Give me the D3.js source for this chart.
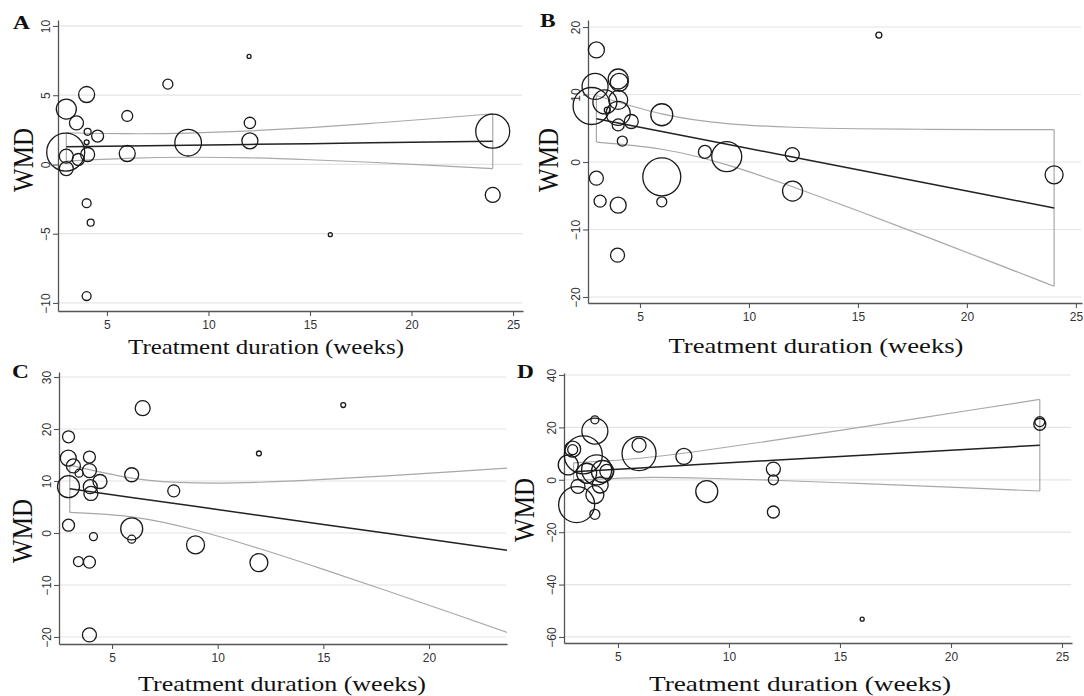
<!DOCTYPE html>
<html><head><meta charset="utf-8">
<script src="https://cdn.jsdelivr.net/npm/d3@7"></script>
<style>body{margin:0;background:#fff}svg{display:block}</style>
</head><body><svg id="c" width="1084" height="696"></svg>
<script>
// ---------- data ----------
const xTicksFull = [5, 10, 15, 20, 25];
const xTicksC = [5, 10, 15, 20];
const yTicksA = [-10, -5, 0, 5, 10];
const yTicksB = [-20, -10, 0, 10, 20];
const yTicksC = [-20, -10, 0, 10, 20, 30];
const yTicksD = [-60, -40, -20, 0, 20, 40];

const durationA = [3.0, 4.0, 3.5, 4.05, 4.54, 4.0, 2.97, 3.0, 3.0, 3.59, 4.05, 6.0, 6.0, 8.0, 9.0, 12.04, 12.04, 12.0, 4.0, 4.2, 4.0, 24.0, 24.0, 16.0];
const wmdA      = [4.0, 5.05, 3.0, 2.36, 2.05, 1.6, 0.89, 0.6, -0.3, 0.36, 0.72, 3.5, 0.79, 5.8, 1.57, 3.0, 1.7, 7.8, -2.8, -4.2, -9.5, 2.4, -2.2, -5.07];
const weightA   = [100, 64, 49, 12, 36, 6, 361, 49, 49, 36, 49, 30, 64, 25, 177, 32, 64, 4, 20, 12, 20, 289, 56, 4];

const durationB = [3.0, 2.94, 2.78, 3.39, 4.0, 4.05, 4.0, 3.5, 4.0, 4.6, 4.0, 4.19, 6.0, 3.0, 3.17, 4.0, 3.97, 6.0, 6.0, 7.98, 8.98, 11.99, 12.0, 15.96, 24.0];
const wmdB      = [16.6, 11.2, 8.3, 8.9, 12.3, 11.8, 9.2, 7.7, 7.2, 6.0, 5.5, 3.1, 7.0, -2.4, -5.8, -6.4, -13.8, -2.2, -5.9, 1.5, 0.8, 1.1, -4.3, 18.8, -1.9];
const weightB   = [64, 169, 342, 144, 100, 81, 90, 9, 144, 49, 36, 25, 121, 49, 36, 64, 49, 361, 25, 42, 225, 49, 100, 9, 81];

const durationC = [2.94, 2.93, 3.17, 3.44, 3.93, 3.93, 2.94, 3.97, 4.0, 4.43, 5.93, 6.45, 7.92, 2.94, 4.12, 5.93, 5.93, 3.41, 3.93, 8.95, 11.95, 11.95, 3.93, 15.94];
const wmdC      = [18.5, 14.4, 12.9, 11.5, 14.6, 12.0, 8.9, 8.9, 7.6, 9.9, 11.2, 24.0, 8.1, 1.5, -0.7, 0.8, -1.2, -5.5, -5.6, -2.3, -5.7, 15.3, -19.6, 24.6];
const weightC   = [36, 64, 49, 16, 36, 49, 121, 49, 49, 49, 49, 56, 36, 36, 16, 121, 16, 25, 36, 81, 81, 6, 49, 6];

const durationD = [2.76, 2.96, 2.96, 3.14, 3.44, 3.2, 3.59, 3.96, 3.96, 4.04, 4.2, 3.96, 3.96, 4.3, 4.5, 5.95, 5.95, 7.97, 9.0, 12.0, 12.0, 12.0, 24.0, 24.0, 16.0];
const wmdD      = [5.7, 11.7, 11.5, -9.5, 9.5, -2.5, 2.5, 22.9, 18.6, 3.8, -2.0, -5.7, -13.2, 3.2, 3.2, 10.0, 13.2, 8.9, -4.5, 4.1, 0.0, -12.3, 21.2, 22.2, -53.2];
const weightD   = [100, 64, 25, 324, 361, 49, 100, 16, 169, 225, 64, 81, 25, 121, 49, 289, 49, 64, 121, 49, 25, 36, 36, 25, 4];

// meta-regression fit and 95% CI read at these durations
const ciWeeks = [3, 6, 9, 12, 15, 18, 21, 24];
const fitA   = [1.27, 1.33, 1.39, 1.45, 1.50, 1.56, 1.62, 1.68];
const upperA = [2.29, 2.22, 2.26, 2.42, 2.66, 2.97, 3.30, 3.66];
const lowerA = [0.25, 0.44, 0.52, 0.48, 0.34, 0.16, -0.06, -0.30];
const fitB   = [6.4, 4.51, 2.63, 0.74, -1.15, -3.03, -4.92, -6.8];
const upperB = [9.85, 7.13, 5.69, 5.15, 4.93, 4.85, 4.81, 4.81];
const lowerB = [2.95, 1.89, -0.43, -3.67, -7.23, -10.91, -14.65, -18.41];
const fitC   = [8.5, 6.79, 5.08, 3.36, 1.65, -0.07, -1.78, -3.49];
const upperC = [13.05, 10.52, 9.63, 9.76, 10.30, 10.98, 11.74, 12.55];
const lowerC = [3.95, 3.06, 0.53, -3.04, -7.0, -11.12, -15.3, -19.53];
const fitD   = [3.1, 4.54, 5.98, 7.43, 8.87, 10.32, 11.76, 13.2];
const upperD = [6.48, 8.23, 11.38, 15.04, 18.87, 22.78, 26.73, 30.69];
const lowerD = [-0.28, 0.85, 0.58, -0.18, -1.13, -2.14, -3.21, -4.29];

const panelLetters = ["A", "B", "C", "D"];
const xTitle = "Treatment duration (weeks)";
const yTitle = "WMD";

// ---------- layout ----------
const panels = [
  {letter: panelLetters[0], dur: durationA, wmd: wmdA, wt: weightA, fit: fitA, up: upperA, lo: lowerA,
   xTicks: xTicksFull, yTicks: yTicksA, px: [58, 523], xd: [2.59, 25.49], py: [311, 20], yd: [-10.58, 10.43],
   letterPos: [13, 29], yTitlePos: [33, 160], xTitlePos: [266, 354], xTitleSx: 1.16},
  {letter: panelLetters[1], dur: durationB, wmd: wmdB, wt: weightB, fit: fitB, up: upperB, lo: lowerB,
   xTicks: xTicksFull, yTicks: yTicksB, px: [588, 1082], xd: [2.615, 25.28], py: [303, 20], yd: [-20.89, 21.04],
   letterPos: [540, 27], yTitlePos: [558, 160], xTitlePos: [816, 353], xTitleSx: 1.24},
  {letter: panelLetters[2], dur: durationC, wmd: wmdC, wt: weightC, fit: fitC, up: upperC, lo: lowerC,
   xTicks: xTicksC, yTicks: yTicksC, px: [59, 507], xd: [2.49, 23.69], py: [644, 372], yd: [-21.35, 30.96],
   letterPos: [12, 378], yTitlePos: [32, 531], xTitlePos: [282, 691], xTitleSx: 1.21},
  {letter: panelLetters[3], dur: durationD, wmd: wmdD, wt: weightD, fit: fitD, up: upperD, lo: lowerD,
   xTicks: xTicksFull, yTicks: yTicksD, px: [564, 1072], xd: [2.57, 25.45], py: [643, 373], yd: [-62.3, 40.76],
   letterPos: [517, 378], yTitlePos: [534, 510], xTitlePos: [800, 691], xTitleSx: 1.27}
];

const svg = d3.select("#c");
const rScale = d3.scaleSqrt().domain([0, 400]).range([0, 20]);
const sans = "'Liberation Sans', Arial, sans-serif";
const serif = "'Liberation Serif', 'Times New Roman', serif";

panels.forEach((p, i) => {
  const x = d3.scaleLinear().domain(p.xd).range(p.px);
  const y = d3.scaleLinear().domain(p.yd).range(p.py);
  const g = svg.append("g");

  const clipId = "clip" + i;
  svg.append("clipPath").attr("id", clipId).append("rect")
    .attr("x", p.px[0]).attr("y", p.py[1]).attr("width", p.px[1] - p.px[0]).attr("height", p.py[0] - p.py[1]);

  // gridlines
  g.append("g").selectAll("line").data(p.yTicks).join("line")
    .attr("x1", p.px[0]).attr("x2", p.px[1] - 1)
    .attr("y1", d => y(d)).attr("y2", d => y(d))
    .attr("stroke", "#e4e4e4").attr("stroke-width", 1.2);

  // axes
  const xa = g.append("g").attr("transform", `translate(0,${p.py[0]})`)
    .call(d3.axisBottom(x).tickValues(p.xTicks).tickSize(5).tickSizeOuter(0).tickPadding(4).tickFormat(d3.format("d")));
  const ya = g.append("g").attr("transform", `translate(${p.px[0]},0)`)
    .call(d3.axisLeft(y).tickValues(p.yTicks).tickSize(5).tickSizeOuter(0).tickFormat(d3.format("d")));
  [xa, ya].forEach(a => {
    a.select(".domain").attr("stroke", "#555").attr("stroke-width", 1.3);
    a.selectAll(".tick line").attr("stroke", "#555").attr("stroke-width", 1.1);
    a.selectAll("text").attr("fill", "#333").style("font-family", sans).style("font-size", "12px");
  });
  ya.selectAll("text").attr("x", null).attr("dy", null)
    .attr("text-anchor", "middle").attr("transform", "translate(-8,0) rotate(-90)");

  // CI band lines
  const cg = g.append("g").attr("clip-path", `url(#${clipId})`);
  const curve = d3.line().x((d, j) => x(ciWeeks[j])).y(d => y(d)).curve(d3.curveNatural);
  cg.append("path").attr("d", curve(p.up)).attr("fill", "none").attr("stroke", "#a8a8a8").attr("stroke-width", 1.2);
  cg.append("path").attr("d", curve(p.lo)).attr("fill", "none").attr("stroke", "#a8a8a8").attr("stroke-width", 1.2);
  [0, ciWeeks.length - 1].forEach(j => {
    cg.append("line").attr("x1", x(ciWeeks[j])).attr("x2", x(ciWeeks[j]))
      .attr("y1", y(p.up[j])).attr("y2", y(p.lo[j]))
      .attr("stroke", "#a8a8a8").attr("stroke-width", 1.2);
  });
  const fl = d3.line().x((d, j) => x(ciWeeks[j])).y(d => y(d));
  cg.append("path").attr("d", fl(p.fit)).attr("fill", "none").attr("stroke", "#222").attr("stroke-width", 1.5);

  // bubbles
  g.append("g").selectAll("circle").data(p.dur.map((d, j) => ({d, v: p.wmd[j], w: p.wt[j]}))).join("circle")
    .attr("cx", d => x(d.d)).attr("cy", d => y(d.v)).attr("r", d => rScale(d.w))
    .attr("fill", "none").attr("stroke", "#1a1a1a").attr("stroke-width", 1.3);

  // titles
  svg.append("text").text(p.letter)
    .attr("transform", `translate(${p.letterPos[0]},${p.letterPos[1]}) scale(1.3,1)`)
    .style("font-family", serif).style("font-weight", "bold").style("font-size", "18px").attr("fill", "#111");
  svg.append("text").text(yTitle).attr("text-anchor", "middle")
    .attr("transform", `translate(${p.yTitlePos[0]},${p.yTitlePos[1]}) rotate(-90) scale(1,1.2)`)
    .style("font-family", serif).style("font-size", "25px").attr("fill", "#111");
  svg.append("text").text(xTitle).attr("text-anchor", "middle")
    .attr("transform", `translate(${p.xTitlePos[0]},${p.xTitlePos[1]}) scale(${p.xTitleSx},1)`)
    .style("font-family", serif).style("font-size", "21.5px").attr("fill", "#111");
});
</script>
</body></html>
